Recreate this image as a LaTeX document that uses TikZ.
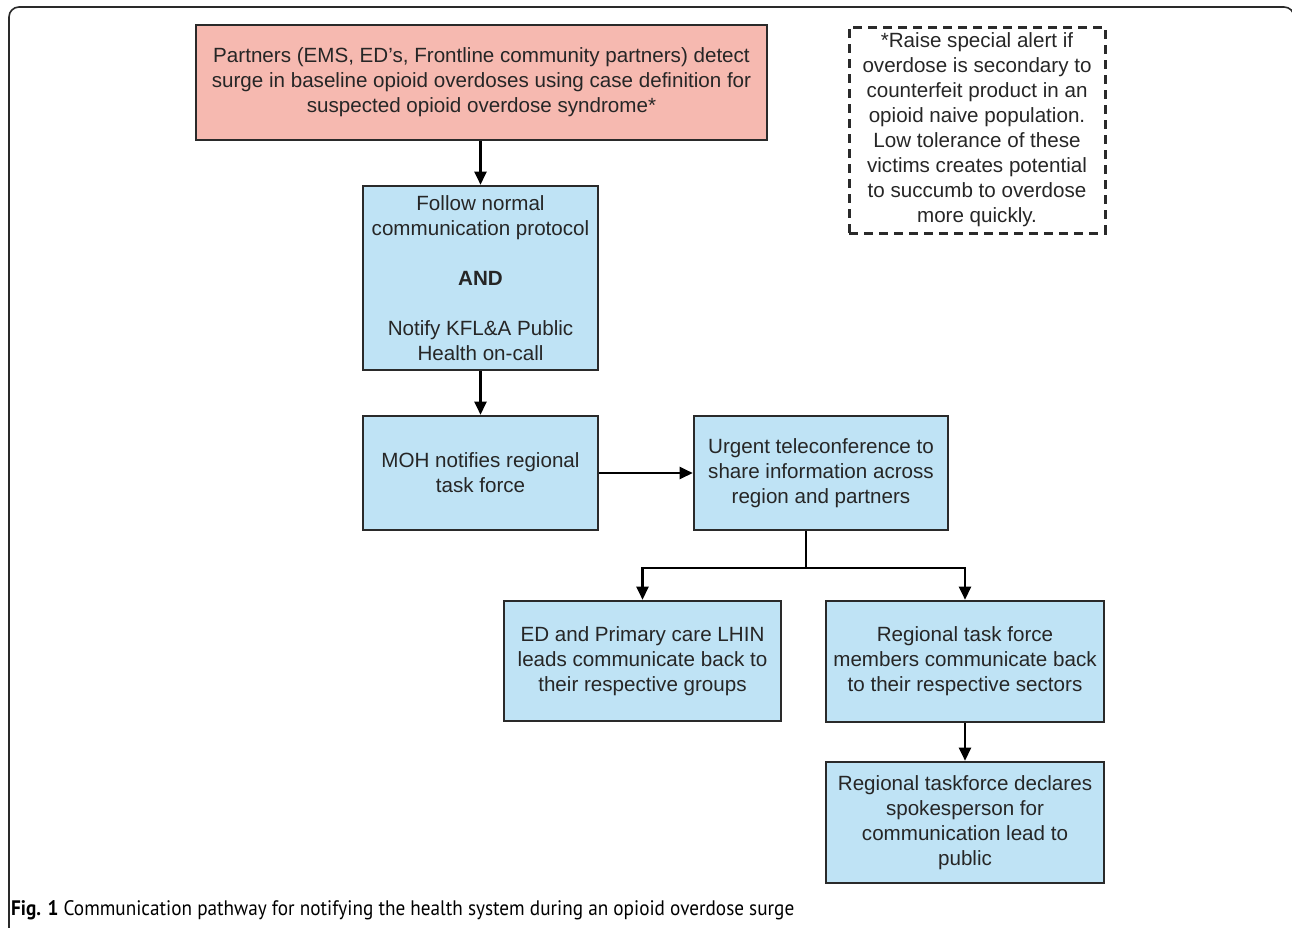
\documentclass[tikz,border=0pt]{standalone}
\usepackage{fontspec}
\setmainfont{Liberation Sans}
\newfontfamily\capfont{PT Sans}
\usetikzlibrary{arrows.meta}
\definecolor{boxblue}{HTML}{BFE3F5}
\definecolor{boxred}{HTML}{F6B9B0}
\definecolor{edge}{HTML}{2A2A2A}
\tikzset{
  x=1pt, y=-1pt,
  flowbox/.style={draw=edge, line width=2.6pt, align=center, inner sep=0pt,
    font=\fontsize{20.6}{25}\selectfont, text=black!85},
  bluebox/.style={flowbox, fill=boxblue},
  redbox/.style={flowbox, fill=boxred},
  notebox/.style={draw=edge, line width=3pt, dash pattern=on 9pt off 6pt, align=center, inner sep=0pt,
    font=\fontsize{20.6}{25}\selectfont, text=black!85},
  arr/.style={draw=black, line width=2.3pt, -{Triangle[length=13pt,width=12pt]}},
  lin/.style={draw=black, line width=2.3pt},
}
\begin{document}
\begin{tikzpicture}
\useasboundingbox (0,0) rectangle (1292,927);
% outer frame
\draw[edge, line width=1.6pt, rounded corners=10pt] (9,950) -- (9,7) -- (1294,7) -- (1294,950);

\node[redbox, minimum width=571pt, minimum height=115pt] (red) at (481.5,82.5)
  {Partners (EMS, ED's, Frontline community partners) detect\\surge in baseline opioid overdoses using case definition for\\suspected opioid overdose syndrome*};

\node[notebox, minimum width=256pt, minimum height=206pt] (note) at (977,130)
  {*Raise special alert if\\overdose is secondary to\\counterfeit product in an\\opioid naive population.\\Low tolerance of these\\victims creates potential\\to succumb to overdose\\more quickly.};

\node[bluebox, minimum width=235pt, minimum height=184pt] (follow) at (480.5,278)
  {Follow normal\\communication protocol\\[25pt]\textbf{AND}\\[25pt]Notify KFL\&A Public\\Health on-call};

\node[bluebox, minimum width=235pt, minimum height=114pt] (moh) at (480.5,473)
  {MOH notifies regional\\task force};

\node[bluebox, minimum width=254pt, minimum height=114pt] (urgent) at (821,473)
  {Urgent teleconference to\\share information across\\region and partners};

\node[bluebox, minimum width=277pt, minimum height=120pt] (ed) at (642.5,661)
  {ED and Primary care LHIN\\leads communicate back to\\their respective groups};

\node[bluebox, minimum width=278pt, minimum height=121pt] (rtf) at (965,661.5)
  {Regional task force\\members communicate back\\to their respective sectors};

\node[bluebox, minimum width=278pt, minimum height=121pt] (spk) at (965,822.5)
  {Regional taskforce declares\\spokesperson for\\communication lead to\\public};

\coordinate (split) at (806,568);
\draw[arr] (red.south -| follow.north) -- (follow.north);
\draw[arr] (follow) -- (moh);
\draw[arr] (moh) -- (urgent);
\draw[lin] (urgent.south -| split) -- (split);
\draw[arr] (split) -| (ed.north);
\draw[arr] (split) -| (rtf.north);
\draw[arr] (rtf) -- (spk);

\node[anchor=base west, inner sep=0pt, font=\capfont\fontsize{21}{24}\selectfont] (cap) at (11,915)
  {\scalebox{0.915}[1]{\textbf{Fig. 1} Communication pathway for notifying the health system during an opioid overdose surge}};
\end{tikzpicture}
\end{document}
